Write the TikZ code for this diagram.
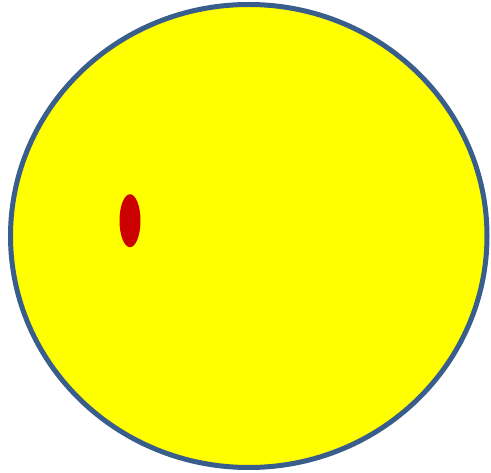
\documentclass[tikz,border=0pt]{standalone}
\definecolor{rim}{HTML}{3A5E8C}
\definecolor{spot}{HTML}{CC0000}
\definecolor{sun}{RGB}{255,255,0}
\begin{document}
\begin{tikzpicture}[x=1pt,y=-1pt,
  big/.style={fill=sun,draw=rim,line width=5pt},
  dot/.style={fill=spot,draw=none}]
\useasboundingbox (0,0) rectangle (491,473);
\fill[white] (0,0) rectangle (491,473);
\path[big] (248.75,236) ellipse [x radius=238.25, y radius=231.5];
\path[dot] (130,220.7) ellipse [x radius=10.5, y radius=26.5];
\end{tikzpicture}
\end{document}
